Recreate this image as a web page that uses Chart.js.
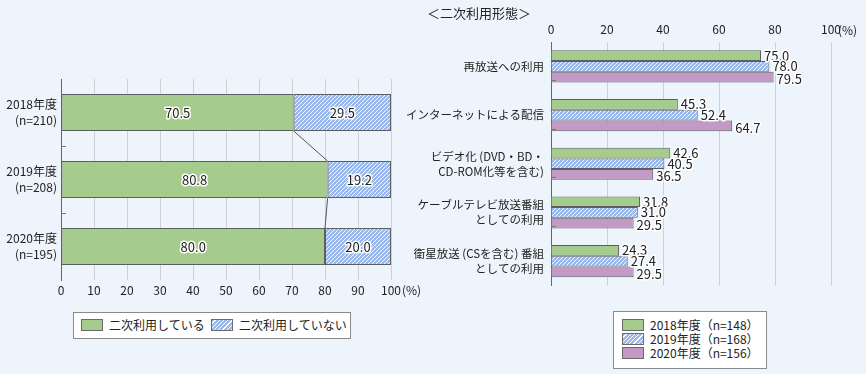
<!DOCTYPE html>
<html lang="ja">
<head>
<meta charset="utf-8">
<script src="https://cdn.jsdelivr.net/npm/chart.js@4.4.1/dist/chart.umd.min.js"></script>
<style>
body { margin: 0; background: #eef4fc; font-family: "Noto Sans CJK JP", sans-serif; color: #222; }
#wrap { position: relative; width: 866px; height: 374px; overflow: hidden; }
canvas { position: absolute; top: 0; }
.title { position: absolute; left: 427px; top: 3px; font-size: 13px; }
.legend { position: absolute; background: #fff; border: 1px solid #8a8a8a; font-size: 12px; }
.item { position: absolute; white-space: nowrap; line-height: 14px; }
.sw { display: inline-block; width: 20px; height: 10px; border: 1px solid #6a6a6a; vertical-align: -1px; margin-right: 6px; }
.hatch { background: repeating-linear-gradient(135deg, #9cb8e8 0 2px, #ffffff 2px 3px); }
</style>
</head>
<body>
<div id="wrap">
	<canvas id="leftChart" width="420" height="300" style="left:0"></canvas>
	<canvas id="rightChart" width="466" height="300" style="left:400px"></canvas>
	<div class="title">＜二次利用形態＞</div>
	<div class="legend" style="left:73px;top:312px;width:276px;height:25px">
		<div class="item" style="left:7px;top:5px"><span class="sw" style="background:#a5cc8c"></span>二次利用している</div>
		<div class="item" style="left:137px;top:5px"><span class="sw hatch"></span>二次利用していない</div>
	</div>
	<div class="legend" style="left:613px;top:311px;width:152px;height:56px">
		<div class="item" style="left:8px;top:6px"><span class="sw" style="background:#a5cc8c"></span>2018年度（n=148）</div>
		<div class="item" style="left:8px;top:20px"><span class="sw hatch"></span>2019年度（n=168）</div>
		<div class="item" style="left:8px;top:34px"><span class="sw" style="background:#c39ac6"></span>2020年度（n=156）</div>
	</div>
</div>
<script>
// 左：二次利用の有無
const years = [['2018年度', '(n=210)'], ['2019年度', '(n=208)'], ['2020年度', '(n=195)']]
const usedShare = [70.5, 80.8, 80.0]
const notUsedShare = [29.5, 19.2, 20.0]

// 右：二次利用形態
const useTypes = [
	'再放送への利用',
	'インターネットによる配信',
	['ビデオ化 (DVD・BD・', 'CD-ROM化等を含む)'],
	['ケーブルテレビ放送番組', 'としての利用'],
	['衛星放送 (CSを含む) 番組', 'としての利用'],
]
const type2018 = [75.0, 45.3, 42.6, 31.8, 24.3]
const type2019 = [78.0, 52.4, 40.5, 31.0, 27.4]
const type2020 = [79.5, 64.7, 36.5, 29.5, 29.5]

const FONT = '"Noto Sans CJK JP", sans-serif'
const GREEN = '#a5cc8c'
const PURPLE = '#c39ac6'
const EDGE = '#5e5e5e'
const GRID = '#d0d0d0'

function makeHatch() {
	const c = document.createElement('canvas')
	c.width = 4
	c.height = 4
	const g = c.getContext('2d')
	g.fillStyle = '#9cb8e8'
	g.fillRect(0, 0, 4, 4)
	g.strokeStyle = 'rgba(255,255,255,0.9)'
	g.lineWidth = 1
	g.beginPath()
	g.moveTo(0, 4); g.lineTo(4, 0)
	g.moveTo(-1, 1); g.lineTo(1, -1)
	g.moveTo(3, 5); g.lineTo(5, 3)
	g.stroke()
	return g.createPattern(c, 'repeat')
}
const hatch = makeHatch()

function haloText(ctx, text, x, y) {
	ctx.lineJoin = 'round'
	ctx.lineWidth = 3
	ctx.strokeStyle = '#fff'
	ctx.strokeText(text, x, y)
	ctx.fillStyle = '#222'
	ctx.fillText(text, x, y)
}

// 内側の目盛り（カテゴリ境界）
function innerTicks(chart) {
	const ctx = chart.ctx
	const els = chart.getDatasetMeta(0).data
	ctx.save()
	ctx.strokeStyle = '#777'
	ctx.lineWidth = 1
	for (let i = 0; i < els.length - 1; i++) {
		const y = Math.round((els[i].y + els[i + 1].y) / 2) + 0.5
		ctx.beginPath()
		ctx.moveTo(chart.chartArea.left, y)
		ctx.lineTo(chart.chartArea.left + 5, y)
		ctx.stroke()
	}
	ctx.restore()
}

const leftDecor = {
	id: 'leftDecor',
	afterDatasetsDraw(chart) {
		const ctx = chart.ctx
		const green = chart.getDatasetMeta(0).data
		ctx.save()
		// 区分線
		ctx.strokeStyle = '#555'
		ctx.lineWidth = 1
		for (let i = 0; i < green.length - 1; i++) {
			const a = green[i], b = green[i + 1]
			ctx.beginPath()
			ctx.moveTo(a.x, a.y + a.height / 2)
			ctx.lineTo(b.x, b.y - b.height / 2)
			ctx.stroke()
		}
		ctx.font = '13px ' + FONT
		ctx.textAlign = 'center'
		ctx.textBaseline = 'middle'
		chart.data.datasets.forEach((ds, di) => {
			chart.getDatasetMeta(di).data.forEach((el, i) => {
				haloText(ctx, ds.data[i].toFixed(1), (el.x + el.base) / 2, el.y + 1)
			})
		})
		ctx.font = '12px ' + FONT
		ctx.textAlign = 'left'
		ctx.fillStyle = '#222'
		ctx.fillText('(%)', chart.chartArea.right + 11, chart.chartArea.bottom + 10)
		ctx.restore()
		innerTicks(chart)
	},
}

new Chart(document.getElementById('leftChart'), {
	type: 'bar',
	data: {
		labels: years,
		datasets: [
			{ data: usedShare, backgroundColor: GREEN, borderColor: EDGE, borderWidth: 1, borderSkipped: false },
			{ data: notUsedShare, backgroundColor: hatch, borderColor: EDGE, borderWidth: 1, borderSkipped: false },
		],
	},
	options: {
		responsive: false,
		animation: false,
		indexAxis: 'y',
		categoryPercentage: 0.55,
		barPercentage: 1,
		layout: { padding: { top: 79, right: 29, bottom: 0, left: 0 } },
		plugins: { legend: { display: false }, tooltip: { enabled: false } },
		scales: {
			x: {
				stacked: true,
				min: 0,
				max: 100,
				ticks: { stepSize: 10, color: '#222', font: { size: 12, family: FONT }, padding: 3, maxRotation: 0 },
				grid: { color: GRID, drawTicks: false },
				border: { display: false },
				afterFit: s => { s.height = 20 },
			},
			y: {
				stacked: true,
				ticks: { color: '#222', font: { size: 12, family: FONT, lineHeight: 1.3 }, padding: 4 },
				grid: { display: false, drawTicks: false },
				border: { color: '#666' },
				afterFit: s => { s.width = 61 },
			},
		},
	},
	plugins: [leftDecor],
})

const rightDecor = {
	id: 'rightDecor',
	afterDatasetsDraw(chart) {
		const ctx = chart.ctx
		ctx.save()
		ctx.font = '13px ' + FONT
		ctx.textAlign = 'left'
		ctx.textBaseline = 'middle'
		chart.data.datasets.forEach((ds, di) => {
			chart.getDatasetMeta(di).data.forEach((el, i) => {
				haloText(ctx, ds.data[i].toFixed(1), el.x + 3, el.y + (di === 2 ? 2 : 0))
			})
		})
		ctx.font = '12px ' + FONT
		ctx.fillStyle = '#222'
		ctx.fillText('(%)', chart.chartArea.right + 7, chart.chartArea.top - 12)
		ctx.restore()
		innerTicks(chart)
	},
}

new Chart(document.getElementById('rightChart'), {
	type: 'bar',
	data: {
		labels: useTypes,
		datasets: [
			{ data: type2018, backgroundColor: GREEN, borderColor: EDGE, borderWidth: 1 },
			{ data: type2019, backgroundColor: hatch, borderColor: EDGE, borderWidth: 1 },
			{ data: type2020, backgroundColor: PURPLE, borderColor: EDGE, borderWidth: 1 },
		],
	},
	options: {
		responsive: false,
		animation: false,
		indexAxis: 'y',
		categoryPercentage: 0.66,
		barPercentage: 1,
		layout: { padding: { top: 20, right: 35, bottom: 7, left: 0 } },
		plugins: { legend: { display: false }, tooltip: { enabled: false } },
		scales: {
			x: {
				position: 'top',
				min: 0,
				max: 100,
				ticks: { stepSize: 20, color: '#222', font: { size: 12, family: FONT }, padding: 5, maxRotation: 0 },
				grid: { color: GRID, drawTicks: false },
				border: { display: false },
				afterFit: s => { s.height = 22 },
			},
			y: {
				ticks: { color: '#222', font: { size: 11.5, family: FONT, lineHeight: 1.3 }, padding: 7 },
				grid: { display: false, drawTicks: false },
				border: { color: '#666' },
				afterFit: s => { s.width = 151 },
			},
		},
	},
	plugins: [rightDecor],
})
</script>
</body>
</html>
